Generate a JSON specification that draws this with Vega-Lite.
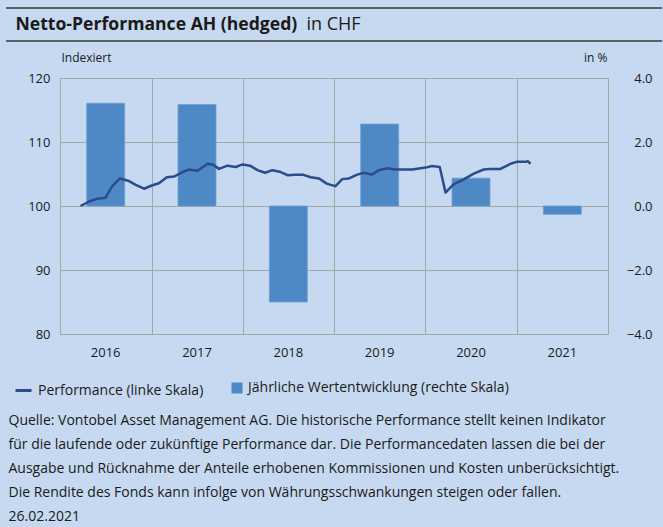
{
  "$schema": "https://vega.github.io/schema/vega-lite/v6.json",
  "background": "#c6d9f0",
  "padding": {"left": 5, "top": 7, "right": 0, "bottom": 0},
  "config": {"font": "Open Sans", "view": {"stroke": null}},
  "vconcat": [
    {
      "width": 656,
      "height": 33,
      "view": {"stroke": "#3a3a3a", "strokeWidth": 1.5, "strokeDash": [656, 33], "fill": null},
      "data": {"values": [{"p": 0}]},
      "mark": {"type": "point", "opacity": 0, "size": 0},
      "encoding": {
        "x": {"field": "p", "type": "quantitative", "axis": {"orient": "top", "title": "Netto-Performance AH (hedged)", "titleX": 9, "titleY": 21.7, "titleAlign": "left", "titleBaseline": "alphabetic", "titleFontSize": 17.6, "titleFontWeight": "bold", "titleColor": "#1a1a1a", "labels": false, "ticks": false, "domain": false, "grid": false}},
        "y": {"field": "p", "type": "quantitative", "axis": {"orient": "left", "title": "in CHF", "titleAngle": 0, "titleX": 300, "titleY": 21.7, "titleAlign": "left", "titleBaseline": "alphabetic", "titleFontSize": 18, "titleFontWeight": "normal", "titleColor": "#1a1a1a", "labels": false, "ticks": false, "domain": false, "grid": false}}
      }
    },
    {
      "width": 548,
      "height": 256,
      "view": {"stroke": "#a6a6a6", "strokeWidth": 1},
      "layer": [
        {
          "data": {"values": [
            {"year": "2016", "ret": 3.21},
            {"year": "2017", "ret": 3.17},
            {"year": "2018", "ret": -3.0},
            {"year": "2019", "ret": 2.56},
            {"year": "2020", "ret": 0.87},
            {"year": "2021", "ret": -0.26}
          ]},
          "mark": {"type": "bar", "stroke": "#6c9fd6", "strokeWidth": 0.8},
          "encoding": {
            "x": {"field": "year", "type": "ordinal", "scale": {"paddingInner": 0.584, "paddingOuter": 0.292},
              "axis": {"orient": "bottom", "title": null, "grid": false, "ticks": false, "tickSize": 0, "domain": false, "labelAngle": 0, "labelPadding": 12, "labelFontSize": 13, "labelColor": "#1a1a1a"}},
            "y": {"field": "ret", "type": "quantitative", "scale": {"domain": [-4, 4], "nice": false},
              "axis": {"orient": "right", "values": [-4, -2, 0, 2, 4], "format": ".1f", "grid": false, "domain": false, "ticks": false, "tickSize": 0, "labelAlign": "right", "labelPadding": 44, "labelFontSize": 13, "labelColor": "#1a1a1a", "title": "in %", "titleAngle": 0, "titleX": -1, "titleY": -21, "titleAlign": "right", "titleBaseline": "middle", "titleFontSize": 12, "titleFontWeight": "normal", "titleColor": "#1a1a1a"}},
            "fill": {"datum": "Jährliche Wertentwicklung (rechte Skala)", "type": "nominal", "scale": {"range": ["#4f89c5"]},
              "legend": {"title": null, "orient": "none", "legendX": 224, "legendY": 373, "symbolType": "square", "symbolSize": 121, "symbolStrokeWidth": 0, "labelFontSize": 14, "labelLimit": 0, "labelColor": "#1a1a1a", "labelOffset": 4, "padding": 0}}
          }
        },
        {
          "data": {"values": [
            {"date": "2016-03-23", "v": 100.0},
            {"date": "2016-04-26", "v": 100.7},
            {"date": "2016-05-29", "v": 101.15},
            {"date": "2016-07-01", "v": 101.3},
            {"date": "2016-07-28", "v": 103.1},
            {"date": "2016-08-28", "v": 104.3},
            {"date": "2016-10-03", "v": 103.9},
            {"date": "2016-10-30", "v": 103.3},
            {"date": "2016-12-02", "v": 102.7},
            {"date": "2017-01-02", "v": 103.2},
            {"date": "2017-01-31", "v": 103.55},
            {"date": "2017-03-03", "v": 104.5},
            {"date": "2017-04-01", "v": 104.6},
            {"date": "2017-05-05", "v": 105.3},
            {"date": "2017-05-31", "v": 105.7},
            {"date": "2017-07-04", "v": 105.5},
            {"date": "2017-08-13", "v": 106.6},
            {"date": "2017-09-02", "v": 106.5},
            {"date": "2017-09-28", "v": 105.8},
            {"date": "2017-11-01", "v": 106.3},
            {"date": "2017-12-04", "v": 106.1},
            {"date": "2017-12-31", "v": 106.5},
            {"date": "2018-01-30", "v": 106.3},
            {"date": "2018-03-01", "v": 105.6},
            {"date": "2018-03-31", "v": 105.2},
            {"date": "2018-04-30", "v": 105.6},
            {"date": "2018-06-02", "v": 105.3},
            {"date": "2018-07-01", "v": 104.8},
            {"date": "2018-07-25", "v": 104.9},
            {"date": "2018-08-28", "v": 104.9},
            {"date": "2018-09-30", "v": 104.5},
            {"date": "2018-11-02", "v": 104.3},
            {"date": "2018-12-03", "v": 103.5},
            {"date": "2018-12-19", "v": 103.3},
            {"date": "2019-01-07", "v": 103.1},
            {"date": "2019-02-03", "v": 104.2},
            {"date": "2019-03-02", "v": 104.3},
            {"date": "2019-04-04", "v": 104.9},
            {"date": "2019-05-01", "v": 105.2},
            {"date": "2019-06-01", "v": 104.9},
            {"date": "2019-06-30", "v": 105.6},
            {"date": "2019-08-02", "v": 105.9},
            {"date": "2019-09-04", "v": 105.7},
            {"date": "2019-10-08", "v": 105.7},
            {"date": "2019-11-10", "v": 105.7},
            {"date": "2019-12-13", "v": 105.9},
            {"date": "2020-01-02", "v": 106.0},
            {"date": "2020-01-29", "v": 106.25},
            {"date": "2020-02-28", "v": 106.1},
            {"date": "2020-03-22", "v": 102.1},
            {"date": "2020-04-24", "v": 103.4},
            {"date": "2020-05-21", "v": 103.9},
            {"date": "2020-07-13", "v": 105.05},
            {"date": "2020-08-22", "v": 105.7},
            {"date": "2020-09-18", "v": 105.8},
            {"date": "2020-10-28", "v": 105.8},
            {"date": "2020-12-07", "v": 106.6},
            {"date": "2021-01-01", "v": 106.9},
            {"date": "2021-02-05", "v": 106.9},
            {"date": "2021-02-14", "v": 107.0},
            {"date": "2021-02-25", "v": 106.6}
          ]},
          "mark": {"type": "line", "strokeWidth": 2.5, "strokeJoin": "round"},
          "encoding": {
            "x": {"field": "date", "type": "temporal",
              "scale": {"domain": [{"year": 2016, "month": 1, "date": 1, "utc": true}, {"year": 2022, "month": 1, "date": 1, "utc": true}], "nice": false},
              "axis": {"orient": "top", "title": null, "values": [
                {"year": 2016, "month": 1, "date": 1, "utc": true},
                {"year": 2017, "month": 1, "date": 1, "utc": true},
                {"year": 2018, "month": 1, "date": 1, "utc": true},
                {"year": 2019, "month": 1, "date": 1, "utc": true},
                {"year": 2020, "month": 1, "date": 1, "utc": true},
                {"year": 2021, "month": 1, "date": 1, "utc": true},
                {"year": 2022, "month": 1, "date": 1, "utc": true}
              ], "grid": true, "gridColor": "#a6a6a6", "gridWidth": 1, "gridOpacity": 1, "labels": false, "ticks": false, "tickSize": 0, "domain": false}},
            "y": {"field": "v", "type": "quantitative", "scale": {"domain": [80, 120], "nice": false, "zero": false},
              "axis": {"orient": "left", "values": [80, 90, 100, 110, 120], "grid": true, "gridColor": "#a6a6a6", "gridWidth": 1, "gridOpacity": 1, "domain": false, "ticks": false, "tickSize": 0, "labelPadding": 10, "labelFontSize": 13, "labelColor": "#1a1a1a", "title": "Indexiert", "titleAngle": 0, "titleX": 1, "titleY": -21, "titleAlign": "left", "titleBaseline": "middle", "titleFontSize": 12, "titleFontWeight": "normal", "titleColor": "#1a1a1a"}},
            "stroke": {"datum": "Performance (linke Skala)", "type": "nominal", "scale": {"range": ["#2b4c8c"]},
              "legend": {"title": null, "orient": "none", "legendX": 8, "legendY": 373, "symbolType": "stroke", "symbolSize": 256, "symbolStrokeWidth": 3, "labelFontSize": 14, "labelLimit": 0, "labelColor": "#1a1a1a", "labelOffset": 5, "padding": 0}}
          }
        }
      ],
      "resolve": {"scale": {"x": "independent", "y": "independent"}}
    },
    {
      "width": 656,
      "height": 156,
      "view": {"stroke": null},
      "data": {"values": [{"p": 0}]},
      "mark": {"type": "point", "opacity": 0, "size": 0},
      "encoding": {
        "x": {"field": "p", "type": "quantitative", "axis": {"orient": "top", "title": [
          "Quelle: Vontobel Asset Management AG. Die historische Performance stellt keinen Indikator",
          "für die laufende oder zukünftige Performance dar. Die Performancedaten lassen die bei der",
          "Ausgabe und Rücknahme der Anteile erhobenen Kommissionen und Kosten unberücksichtigt.",
          "Die Rendite des Fonds kann infolge von Währungsschwankungen steigen oder fallen.",
          "26.02.2021"
        ], "titleX": 2, "titleY": 53, "titleAlign": "left", "titleBaseline": "alphabetic", "titleLineHeight": 24, "titleFontSize": 14, "titleFontWeight": "normal", "titleColor": "#1a1a1a", "labels": false, "ticks": false, "domain": false, "grid": false}}
      }
    }
  ],
  "spacing": 37,
  "bounds": "flush",
  "center": true
}
